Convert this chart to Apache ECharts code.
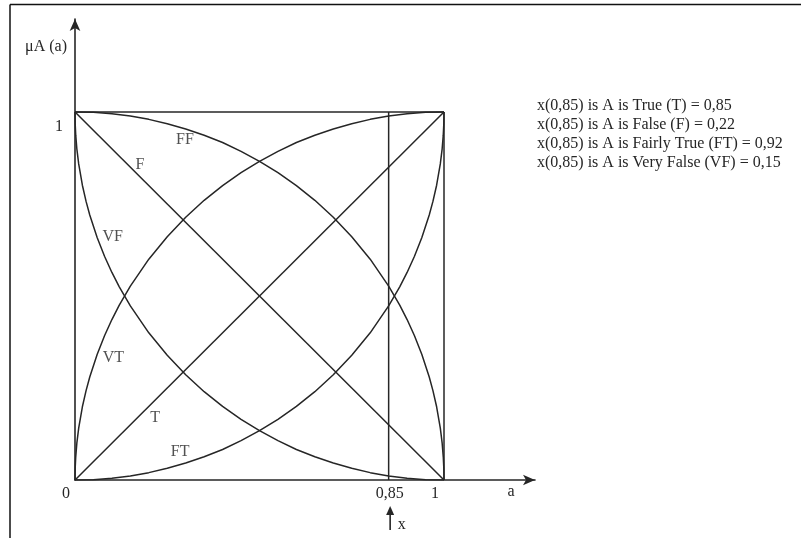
<!DOCTYPE html>
<html>
<head>
<meta charset="utf-8">
<script src="https://cdn.jsdelivr.net/npm/echarts@6/dist/echarts.min.js"></script>
<style>
  html, body { margin: 0; padding: 0; background: #ffffff; }
  #chart { width: 801px; height: 538px; }
</style>
</head>
<body>
<div id="chart"></div>
<script>
// Linguistic hedges of a fuzzy set A on the universe a in [0, 1]

// T: A is True
const TRUE_LINE = [[0, 0], [1, 1]];
// F: A is False
const FALSE_LINE = [[0, 1], [1, 0]];
// FF: Fairly False (bows upward, from (0,1) to (1,0))
const CURVE_FF = [[0, 1], [0.05, 0.999], [0.1, 0.995], [0.15, 0.989], [0.2, 0.98], [0.25, 0.968], [0.3, 0.954],
  [0.35, 0.937], [0.4, 0.917], [0.45, 0.893], [0.5, 0.866], [0.55, 0.835], [0.6, 0.8], [0.65, 0.76],
  [0.7, 0.714], [0.75, 0.661], [0.8, 0.6], [0.85, 0.527], [0.88, 0.475], [0.9, 0.436], [0.92, 0.392],
  [0.94, 0.341], [0.96, 0.28], [0.97, 0.243], [0.98, 0.199], [0.99, 0.141], [0.995, 0.1], [0.998, 0.063],
  [0.9995, 0.032], [1, 0]];
// VT label curve (bows upward, from (0,0) to (1,1))
const CURVE_VT = [[0, 0], [0.0005, 0.032], [0.002, 0.063], [0.005, 0.1], [0.01, 0.141], [0.02, 0.199],
  [0.03, 0.243], [0.04, 0.28], [0.06, 0.341], [0.08, 0.392], [0.1, 0.436], [0.12, 0.475], [0.15, 0.527],
  [0.2, 0.6], [0.25, 0.661], [0.3, 0.714], [0.35, 0.76], [0.4, 0.8], [0.45, 0.835], [0.5, 0.866],
  [0.55, 0.893], [0.6, 0.917], [0.65, 0.937], [0.7, 0.954], [0.75, 0.968], [0.8, 0.98], [0.85, 0.989],
  [0.9, 0.995], [0.95, 0.999], [1, 1]];
// VF: Very False (sags downward, from (0,1) to (1,0))
const CURVE_VF = [[0, 1], [0.0005, 0.968], [0.002, 0.937], [0.005, 0.9], [0.01, 0.859], [0.02, 0.801],
  [0.03, 0.757], [0.04, 0.72], [0.06, 0.659], [0.08, 0.608], [0.1, 0.564], [0.12, 0.525], [0.15, 0.473],
  [0.2, 0.4], [0.25, 0.339], [0.3, 0.286], [0.35, 0.24], [0.4, 0.2], [0.45, 0.165], [0.5, 0.134],
  [0.55, 0.107], [0.6, 0.083], [0.65, 0.063], [0.7, 0.046], [0.75, 0.032], [0.8, 0.02], [0.85, 0.011],
  [0.9, 0.005], [0.95, 0.001], [1, 0]];
// FT label curve (sags downward, from (0,0) to (1,1))
const CURVE_FT = [[0, 0], [0.05, 0.001], [0.1, 0.005], [0.15, 0.011], [0.2, 0.02], [0.25, 0.032], [0.3, 0.046],
  [0.35, 0.063], [0.4, 0.083], [0.45, 0.107], [0.5, 0.134], [0.55, 0.165], [0.6, 0.2], [0.65, 0.24],
  [0.7, 0.286], [0.75, 0.339], [0.8, 0.4], [0.85, 0.473], [0.88, 0.525], [0.9, 0.564], [0.92, 0.608],
  [0.94, 0.659], [0.96, 0.72], [0.97, 0.757], [0.98, 0.801], [0.99, 0.859], [0.995, 0.9], [0.998, 0.937],
  [0.9995, 0.968], [1, 1]];
// Frame of the unit square (top and right edges)
const SQUARE_TOP = [[0, 1], [1, 1]];
const SQUARE_RIGHT = [[1, 0], [1, 1]];
// Chosen element x = 0,85
const X_VALUE = 0.85;
const X_MARKER = [[X_VALUE, 0], [X_VALUE, 1]];

// Tick labels
const X_TICKS = [0, X_VALUE, 1];
const X_TICK_TEXT = ['0', '0,85', '1'];
const Y_TICKS = [1];
const Y_TICK_TEXT = ['1'];

// Curve names and where they are written
const CURVE_NAMES = ['FF', 'F', 'VF', 'VT', 'T', 'FT'];
const CURVE_NAME_ANCHORS = [[0.298, 0.924], [0.176, 0.856], [0.102, 0.66], [0.104, 0.333], [0.217, 0.168], [0.285, 0.077]];

// Statements listed on the right
const STATEMENTS = [
  'x(0,85) is A is True (T) = 0,85',
  'x(0,85) is A is False (F) = 0,22',
  'x(0,85) is A is Fairly True (FT) = 0,92',
  'x(0,85) is A is Very False (VF) = 0,15'
];

const INK = '#262626';
const FONT = '"Liberation Serif", "Times New Roman", serif';

// Layout: one data unit is 369 px wide and 368 px tall; the axes run past 1 to their arrows.
const GRID = { left: 75, top: 19, width: 460, height: 461 };
const UNIT_X = 369, UNIT_Y = 368;

const chart = echarts.init(document.getElementById('chart'), null, { renderer: 'canvas' });

function lineSeries(name, data) {
  return {
    name: name,
    type: 'line',
    data: data,
    showSymbol: false,
    symbol: 'none',
    silent: true,
    animation: false,
    lineStyle: { color: INK, width: 1.5 },
    z: 3
  };
}

const option = {
  backgroundColor: '#ffffff',
  animation: false,
  grid: { left: GRID.left, top: GRID.top, width: GRID.width, height: GRID.height, containLabel: false },
  xAxis: {
    type: 'value',
    min: 0,
    max: GRID.width / UNIT_X,
    name: 'a',
    nameLocation: 'end',
    nameGap: -24,
    nameTextStyle: { fontFamily: FONT, fontSize: 16, color: INK, align: 'center', verticalAlign: 'top', padding: [4, 0, 0, 0] },
    axisLine: { show: true, lineStyle: { color: INK, width: 1.6 }, symbol: ['none', 'arrow'], symbolSize: [8, 12] },
    axisTick: { show: false },
    splitLine: { show: false },
    axisLabel: {
      customValues: X_TICKS,
      margin: 6,
      fontFamily: FONT,
      fontSize: 16,
      color: INK,
      formatter: function (v) {
        const i = X_TICKS.indexOf(v);
        const t = i >= 0 ? X_TICK_TEXT[i] : '';
        return v === X_VALUE ? '{m|' + t + '}' : '{s|' + t + '}';
      },
      rich: {
        s: { fontFamily: FONT, fontSize: 16, color: INK, padding: [0, 18, 0, 0] },
        m: { fontFamily: FONT, fontSize: 16, color: INK, padding: [0, 0, 0, 2] }
      }
    }
  },
  yAxis: {
    type: 'value',
    min: 0,
    max: GRID.height / UNIT_Y,
    name: 'μA (a)',
    nameLocation: 'end',
    nameGap: -28,
    nameTextStyle: { fontFamily: FONT, fontSize: 16, color: INK, align: 'right', verticalAlign: 'middle', padding: [0, 8, 0, 0] },
    axisLine: { show: true, lineStyle: { color: INK, width: 1.6 }, symbol: ['none', 'arrow'], symbolSize: [8, 12] },
    axisTick: { show: false },
    splitLine: { show: false },
    axisLabel: {
      customValues: Y_TICKS,
      margin: 12,
      fontFamily: FONT,
      fontSize: 16,
      color: INK,
      verticalAlign: 'top',
      padding: [7, 0, 0, 0],
      formatter: function (v) {
        const i = Y_TICKS.indexOf(v);
        return i >= 0 ? Y_TICK_TEXT[i] : '';
      }
    }
  },
  series: [
    lineSeries('square-top', SQUARE_TOP),
    lineSeries('square-right', SQUARE_RIGHT),
    lineSeries('x', X_MARKER),
    lineSeries('T', TRUE_LINE),
    lineSeries('F', FALSE_LINE),
    lineSeries('FF', CURVE_FF),
    lineSeries('VT', CURVE_VT),
    lineSeries('VF', CURVE_VF),
    lineSeries('FT', CURVE_FT),
    {
      name: 'curve-names',
      type: 'scatter',
      silent: true,
      animation: false,
      symbolSize: 1,
      itemStyle: { color: 'rgba(0,0,0,0)' },
      data: CURVE_NAMES.map(function (n, i) { return { name: n, value: CURVE_NAME_ANCHORS[i] }; }),
      label: {
        show: true,
        position: 'inside',
        formatter: function (p) { return p.name; },
        fontFamily: FONT,
        fontSize: 16,
        color: INK
      },
      z: 5
    }
  ]
};

chart.setOption(option);

// Pointer under the chosen element x, the statements and the frame
const px = chart.convertToPixel({ xAxisIndex: 0 }, X_VALUE);
chart.setOption({
  graphic: [
    {
      type: 'line',
      shape: { x1: 10, y1: 4.5, x2: 801, y2: 4.5 },
      style: { stroke: '#111', lineWidth: 1.5 },
      silent: true
    },
    {
      type: 'line',
      shape: { x1: 10, y1: 4.5, x2: 10, y2: 538 },
      style: { stroke: '#111', lineWidth: 1.5 },
      silent: true
    },
    {
      type: 'line',
      shape: { x1: px + 1.5, y1: 512, x2: px + 1.5, y2: 530 },
      style: { stroke: INK, lineWidth: 1.6 },
      silent: true
    },
    {
      type: 'polygon',
      shape: { points: [[px + 1.5, 506], [px - 2.5, 515], [px + 5.5, 515]] },
      style: { fill: INK },
      silent: true
    },
    {
      type: 'text',
      x: px + 9,
      y: 525,
      style: { text: 'x', font: '16px ' + FONT, fill: INK, verticalAlign: 'middle', align: 'left' },
      silent: true
    },
    {
      type: 'text',
      x: 537,
      y: 96,
      style: {
        text: STATEMENTS.join('\n'),
        font: '16px ' + FONT,
        lineHeight: 19,
        fill: INK,
        align: 'left',
        verticalAlign: 'top'
      },
      silent: true
    }
  ]
});
</script>
</body>
</html>
